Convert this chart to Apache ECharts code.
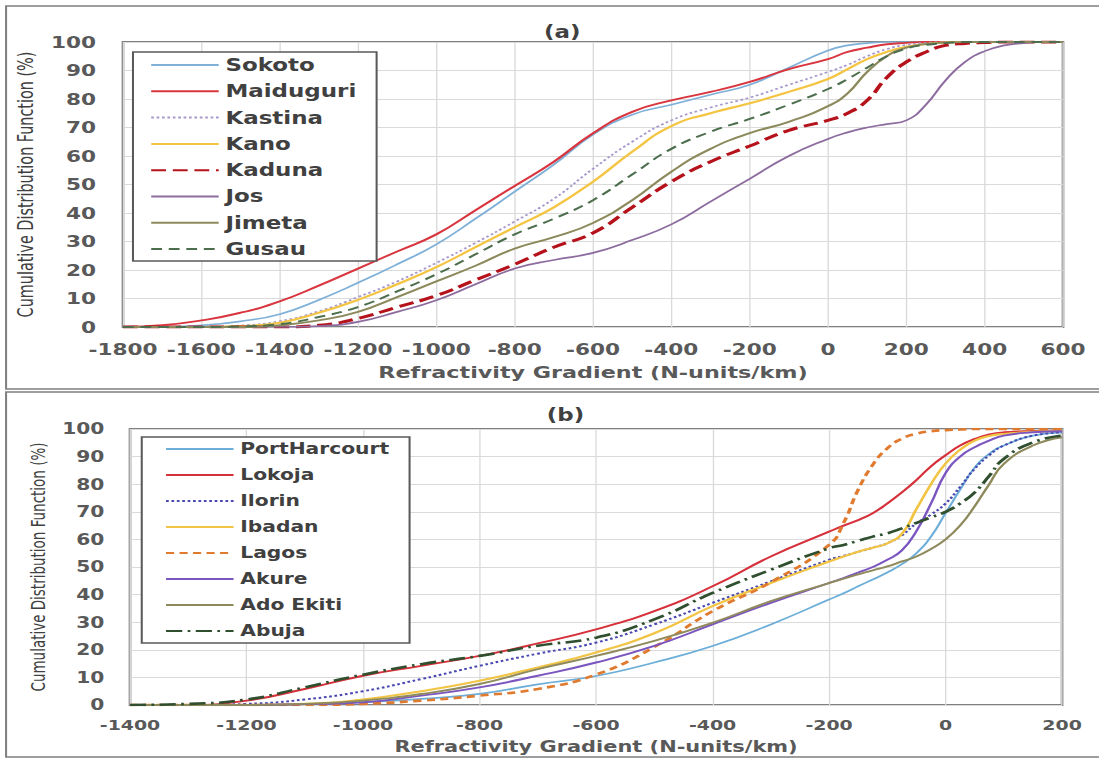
<!DOCTYPE html>
<html><head><meta charset="utf-8">
<script src="https://cdn.jsdelivr.net/npm/echarts@6/dist/echarts.min.js"></script>
<style>
html,body{margin:0;padding:0;background:#fff;overflow:hidden;width:1099px;height:759px;}
#chart{width:814px;height:759px;transform:scaleX(1.35);transform-origin:0 0;}
</style></head><body><div id="chart"></div>
<script>
// ---------- Data ----------
const aX = [-1800,-1700,-1600,-1500,-1400,-1300,-1200,-1100,-1000,-900,-800,-700,-600,-500,-400,-300,-200,-100,0,50,100,150,200,250,300,350,400,450,500,550,600];
const aNames = ['Sokoto','Maiduguri','Kastina','Kano','Kaduna','Jos','Jimeta','Gusau'];
const sokoto    = [0,0,0.6,2,4.5,9.5,15.5,22,29,38,47.5,57,67.5,74.5,78,81.5,85,91,97,98.8,99.6,100,100,100,100,100,100,100,100,100,100];
const maiduguri = [0,0.6,2.3,5,9,14.5,20.5,26.5,32.5,41,49.5,58,68,75.5,79.5,82.5,86,90.5,94,96.5,98,99.2,99.7,100,100,100,100,100,100,100,100];
const kastina   = [0,0,0,0.5,2,5.5,10.5,16,22.5,29.5,37,45,55.5,65,72.5,77,80.5,85,89.5,92,95,97.5,99,99.7,100,100,100,100,100,100,100];
const kano      = [0,0,0,0.3,1.5,5,9.5,15,21,28,35,42,51,61.5,70.5,75,78.5,82.5,87,90.5,94,96.5,98.3,99.3,99.8,100,100,100,100,100,100];
const kaduna    = [0,0,0,0,0,0.6,3,7,11,16.5,22,28,33,42,51,58,63.5,69,72.5,75,79.5,87.5,93,96.5,98.8,99.5,99.8,100,100,100,100];
const jos       = [0,0,0,0,0,0.3,1.8,5.3,9.4,15,20.5,23.5,26,30.5,36,44,52,60,66,68.3,70,71.2,72.5,78,86.5,93,96.8,98.8,99.6,100,100];
const jimeta    = [0,0,0,0,0.6,2.3,5.3,10.5,16,21.5,27.5,31.5,36.5,44.5,54.5,62.5,68,72,77.5,82,89.5,95,98,99.3,99.8,100,100,100,100,100,100];
const gusau     = [0,0,0,0.2,1,3.5,7,12.5,18.5,25.5,32.5,38,44.5,53.5,62.5,68.5,73,78,83.5,87,91,95,97.7,99,99.6,100,100,100,100,100,100];

const bX = [-1400,-1300,-1200,-1100,-1000,-900,-800,-700,-600,-500,-400,-300,-200,-175,-150,-125,-100,-75,-50,-25,0,25,50,75,100,150,200];
const bNames = ['PortHarcourt','Lokoja','Ilorin','Ibadan','Lagos','Akure','Ado Ekiti','Abuja'];
const portHarcourt = [0,0,0,0.3,1,2.2,4,7.5,10.5,15.4,21.4,29.2,38.2,40.5,43,45.5,48,51,55,61,69.5,78,86,91,94,97.6,98.8];
const lokoja       = [0,0,1.6,5.8,10.6,14.2,17.8,22.3,27.4,34,43,53.8,62.8,65,67,69.5,73,77,81.5,86.5,90.5,94,96.4,98,98.8,99.3,99.5];
const ilorin       = [0,0,0.4,2,5,9.4,14.2,18.6,22.6,29.2,37,44.8,52.6,54,55.5,57,58.6,61.5,65.8,69,73,79,85.6,90.5,94,97.6,98.8];
const ibadan       = [0,0,0,0.4,2,5,8.8,13.6,19,26,35.8,44.2,52,53.8,55.5,57,58.6,62,71,80,87.5,92.5,95.8,97.5,98.2,99,99.4];
const lagos        = [0,0,0,0,0.4,1.6,3.4,5.8,11,21,34,44.5,58,66,78,87,93,96.5,98.3,99.2,99.6,99.8,100,100,100,100,100];
const akure        = [0,0,0,0.3,1,3.4,6.4,10.6,15.4,21.4,29.2,37,44.2,46,48,50,52.6,56,63,73,84,90,93.4,95.8,97.6,98.8,99.2];
const adoEkiti     = [0,0,0,0.4,1.6,4,7.6,13,17.8,23.2,29.8,37.6,44.2,45.8,47.3,48.8,50.2,52,53.8,56.5,60,65,72,80,87.4,94,97];
const abuja        = [0,0.4,2,6.4,11,14.8,17.8,21.5,24.4,31,40.6,49,56.8,58,59.5,61,62.2,64,66,68,70,73,77,83,89.2,95.2,97.6];

const xTitle = 'Refractivity Gradient (N-units/km)';
const yTitle = 'Cumulative Distribution Function (%)';

// ---------- Chart ----------
const SX = 1.35;
const W = 1099 / SX;
const FONT = "'DejaVu Sans', Verdana, sans-serif";
const NARROW = "'Liberation Sans Narrow','DejaVu Sans Condensed',sans-serif";

function mk(name, xs, ys, idx, color, width, type) {
  return {
    name: name, type: 'line', xAxisIndex: idx, yAxisIndex: idx,
    data: xs.map((x, i) => [x, ys[i]]),
    symbol: 'none', showSymbol: false, smooth: 0.5,
    lineStyle: { color: color, width: width, type: type },
    itemStyle: { color: color },
    emphasis: { disabled: true }
  };
}

const series = [
  mk('Sokoto', aX, sokoto, 0, '#7fb0d8', 1.7, 'solid'),
  mk('Maiduguri', aX, maiduguri, 0, '#d9353e', 1.9, 'solid'),
  mk('Kastina', aX, kastina, 0, '#a898cc', 1.7, [2, 2]),
  mk('Kano', aX, kano, 0, '#f4c443', 2.1, 'solid'),
  mk('Kaduna', aX, kaduna, 0, '#b5121b', 3, [11, 5]),
  mk('Jos', aX, jos, 0, '#8d6c9f', 1.7, 'solid'),
  mk('Jimeta', aX, jimeta, 0, '#8c8a5c', 1.9, 'solid'),
  mk('Gusau', aX, gusau, 0, '#4d6e4d', 1.9, [8, 5]),
  mk('PortHarcourt', bX, portHarcourt, 1, '#6daed8', 1.7, 'solid'),
  mk('Lokoja', bX, lokoja, 1, '#d6303a', 1.9, 'solid'),
  mk('Ilorin', bX, ilorin, 1, '#4848b0', 2, [2, 2]),
  mk('Ibadan', bX, ibadan, 1, '#f2c444', 2.1, 'solid'),
  mk('Lagos', bX, lagos, 1, '#e07a2e', 2.6, [6, 4]),
  mk('Akure', bX, akure, 1, '#7b55c0', 1.9, 'solid'),
  mk('Ado Ekiti', bX, adoEkiti, 1, '#8f8a5c', 1.9, 'solid'),
  mk('Abuja', bX, abuja, 1, '#2f4f2f', 2.6, [12, 4, 2, 4])
];

function xAxisCfg(idx, min, max, labelSize, nameSize, nameGap, margin) {
  return {
    gridIndex: idx, type: 'value', min: min, max: max, interval: 200,
    name: xTitle, nameLocation: 'middle', nameGap: nameGap,
    nameTextStyle: { fontFamily: FONT, fontSize: nameSize, fontWeight: 'bold', color: '#595959' },
    axisLine: { show: false }, axisTick: { show: false },
    axisLabel: { fontFamily: FONT, fontSize: labelSize, fontWeight: 'bold', color: '#595959', margin: margin,
                 formatter: v => String(v) },
    splitLine: { show: true, lineStyle: { color: '#dadada', width: 1 } }
  };
}
function yAxisCfg(idx, labelSize, nameSize, nameGap, margin) {
  return {
    gridIndex: idx, type: 'value', min: 0, max: 100, interval: 10,
    name: yTitle, nameLocation: 'middle', nameGap: nameGap,
    nameTextStyle: { fontFamily: NARROW, fontSize: nameSize, color: '#404040' },
    axisLine: { show: false }, axisTick: { show: false },
    axisLabel: { fontFamily: FONT, fontSize: labelSize, fontWeight: 'bold', color: '#595959', margin: margin },
    splitLine: { show: true, lineStyle: { color: '#dadada', width: 1 } }
  };
}

const legendCommon = {
  orient: 'vertical', itemWidth: 50, itemHeight: 12,
  borderColor: '#595959', borderWidth: 1.5, backgroundColor: '#ffffff',
  selectedMode: false,
  itemStyle: { opacity: 0, borderWidth: 0 }
};

const option = {
  backgroundColor: '#ffffff',
  animation: false,
  title: [
    { text: '(a)', left: 398, top: 19, textStyle: { fontFamily: FONT, fontSize: 17, fontWeight: 'bold', color: '#404040' } },
    { text: '(b)', left: 400, top: 402, textStyle: { fontFamily: FONT, fontSize: 17, fontWeight: 'bold', color: '#404040' } }
  ],
  grid: [
    { left: 91.1, right: W - 787.4, top: 42, height: 285, show: true, borderColor: '#808080', borderWidth: 2, backgroundColor: 'transparent' },
    { left: 96.3, right: W - 786.7, top: 429, height: 276, show: true, borderColor: '#808080', borderWidth: 2, backgroundColor: 'transparent' }
  ],
  xAxis: [
    xAxisCfg(0, -1800, 600, 16, 16.5, 37, 14),
    xAxisCfg(1, -1400, 200, 14, 15.5, 34, 13)
  ],
  yAxis: [
    yAxisCfg(0, 16, 16, 53, 20),
    yAxisCfg(1, 15, 15, 60, 19)
  ],
  legend: [
    Object.assign({}, legendCommon, {
      data: aNames, left: 98.5, top: 52,
      padding: [4, 15, 3, 12.5], itemGap: 8.3,
      textStyle: { fontFamily: FONT, fontSize: 17, fontWeight: 'bold', color: '#404040', lineHeight: 18 }
    }),
    Object.assign({}, legendCommon, {
      data: bNames, left: 105, top: 437,
      padding: [3, 15, 3, 17], itemGap: 8,
      textStyle: { fontFamily: FONT, fontSize: 15, fontWeight: 'bold', color: '#404040', lineHeight: 18 }
    })
  ],
  graphic: [
    { type: 'rect', silent: true, shape: { x: 4.5, y: 6, width: 1000, height: 383 }, style: { fill: 'none', stroke: '#7f7f7f', lineWidth: 1.5 } },
    { type: 'rect', silent: true, shape: { x: 4.5, y: 392, width: 1000, height: 365 }, style: { fill: 'none', stroke: '#7f7f7f', lineWidth: 1.5 } }
  ],
  series: series
};

const chart = echarts.init(document.getElementById('chart'), null, { renderer: 'svg', width: W, height: 759 });
chart.setOption(option);
</script></body></html>
